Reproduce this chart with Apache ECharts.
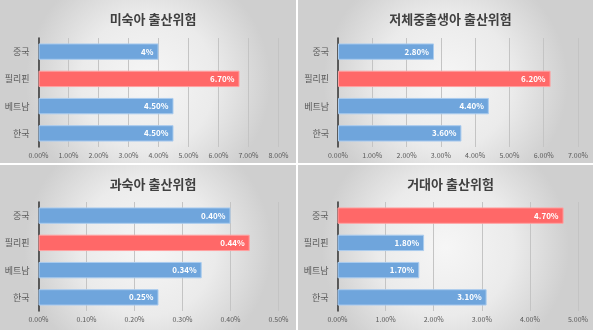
<!DOCTYPE html>
<html>
<head>
<meta charset="utf-8">
<script src="https://cdn.jsdelivr.net/npm/echarts@6/dist/echarts.min.js"></script>
<style>
html,body{margin:0;padding:0;background:#fff;}
#c{width:593px;height:330px;}
</style>
</head>
<body>
<div id="c"></div>
<script>
// ---- data ----
const categories = ['중국', '필리핀', '베트남', '한국'];

const title1 = '미숙아 출산위험';
const values1 = [4.0, 6.7, 4.5, 4.5];
const labels1 = ['4%', '6.70%', '4.50%', '4.50%'];
const highlight1 = '필리핀';
const axisMax1 = 8, axisStep1 = 1;

const title2 = '저체중출생아 출산위험';
const values2 = [2.8, 6.2, 4.4, 3.6];
const labels2 = ['2.80%', '6.20%', '4.40%', '3.60%'];
const highlight2 = '필리핀';
const axisMax2 = 7, axisStep2 = 1;

const title3 = '과숙아 출산위험';
const values3 = [0.40, 0.44, 0.34, 0.25];
const labels3 = ['0.40%', '0.44%', '0.34%', '0.25%'];
const highlight3 = '필리핀';
const axisMax3 = 0.5, axisStep3 = 0.1;

const title4 = '거대아 출산위험';
const values4 = [4.7, 1.8, 1.7, 3.1];
const labels4 = ['4.70%', '1.80%', '1.70%', '3.10%'];
const highlight4 = '중국';
const axisMax4 = 5, axisStep4 = 1;

// ---- layout ----
const FONT = '"Noto Sans CJK KR", "Noto Sans", sans-serif';
const panels = [
  {title: title1, values: values1, labels: labels1, hl: highlight1, max: axisMax1, step: axisStep1,
   rect: [0, 0, 296, 163], grid: {left: 38.5, top: 38, width: 240, height: 109}},
  {title: title2, values: values2, labels: labels2, hl: highlight2, max: axisMax2, step: axisStep2,
   rect: [298, 0, 295, 163], grid: {left: 338, top: 38, width: 240, height: 109}},
  {title: title3, values: values3, labels: labels3, hl: highlight3, max: axisMax3, step: axisStep3,
   rect: [0, 165, 296, 165], grid: {left: 38.5, top: 202, width: 240, height: 109}},
  {title: title4, values: values4, labels: labels4, hl: highlight4, max: axisMax4, step: axisStep4,
   rect: [298, 165, 295, 165], grid: {left: 337.5, top: 202, width: 240.5, height: 109}}
];

const chart = echarts.init(document.getElementById('c'), null, {renderer: 'canvas'});

const graphic = [];
const titles = [];
const grids = [];
const xAxes = [];
const yAxes = [];
const series = [];

panels.forEach((p, i) => {
  const [rx, ry, rw, rh] = p.rect;
  graphic.push({
    type: 'rect', z: -10, silent: true,
    shape: {x: rx, y: ry, width: rw, height: rh},
    style: {
      fill: new echarts.graphic.RadialGradient(0.5, 0.5, 0.75, [
        {offset: 0, color: '#f6f6f6'},
        {offset: 0.55, color: '#ebebeb'},
        {offset: 1, color: '#cfcfcf'}
      ])
    }
  });
  titles.push({
    text: p.title,
    left: rx + rw / 2,
    top: ry + 8,
    textAlign: 'center',
    textStyle: {fontFamily: FONT, fontSize: 13, fontWeight: 'bold', color: '#404040'}
  });
  grids.push(Object.assign({containLabel: false}, p.grid));
  xAxes.push({
    type: 'value', gridIndex: i, min: 0, max: p.max, interval: p.step,
    axisLine: {show: false}, axisTick: {show: false},
    splitLine: {show: true, lineStyle: {color: '#c4c4c4', width: 1}},
    axisLabel: {
      fontFamily: FONT, fontSize: 7, color: '#595959', margin: 5,
      formatter: v => v.toFixed(2) + '%'
    }
  });
  yAxes.push({
    type: 'category', gridIndex: i, data: categories, inverse: true,
    axisLine: {show: true, lineStyle: {color: '#333333', width: 1.5}},
    axisTick: {show: false},
    axisLabel: {fontFamily: FONT, fontSize: 9, color: '#595959', margin: 9}
  });
  series.push({
    type: 'bar', xAxisIndex: i, yAxisIndex: i,
    barWidth: '60%',
    data: p.values.map((v, k) => {
      const hot = categories[k] === p.hl;
      return {
        value: v,
        itemStyle: {
          color: hot ? '#ff6868' : '#6fa5dc',
          borderColor: hot ? '#ffa0a0' : '#a9cbee',
          borderWidth: 1
        },
        label: {formatter: p.labels[k]}
      };
    }),
    label: {
      show: true, position: 'insideRight', distance: 5,
      fontFamily: FONT, fontSize: 8, fontWeight: 'bold', color: '#ffffff'
    },
    animation: false
  });
});

chart.setOption({
  animation: false,
  backgroundColor: '#ffffff',
  graphic: graphic,
  title: titles,
  grid: grids,
  xAxis: xAxes,
  yAxis: yAxes,
  series: series
});
</script>
</body>
</html>
